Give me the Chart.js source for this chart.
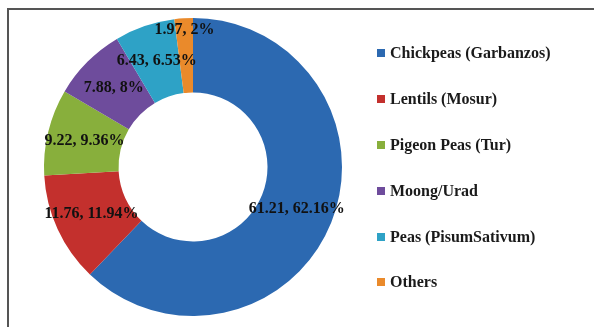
<!DOCTYPE html>
<html>
<head>
<meta charset="utf-8">
<script src="https://cdn.jsdelivr.net/npm/chart.js@4.4.0/dist/chart.umd.min.js"></script>
<style>
  html, body { margin: 0; padding: 0; background: #fff; }
  #wrap { position: relative; width: 594px; height: 327px; overflow: hidden; background: #fff; }
  #frame { position: absolute; left: 7px; top: 8px; width: 600px; height: 330px;
           border-top: 2px solid #555; border-left: 2px solid #555; box-sizing: border-box; }
  #c { position: absolute; left: 0; top: 0; }
  #legend { position: absolute; left: 377px; top: 0; font-family: "Liberation Serif", serif;
            font-weight: bold; font-size: 16px; color: #1a1a1a; }
  .item { position: absolute; white-space: nowrap; height: 18px; line-height: 18px; }
  .sw { position: absolute; left: 0; top: 5px; width: 8px; height: 8px; }
  .tx { position: absolute; left: 13px; top: 0; }
</style>
</head>
<body>
<div id="wrap">
  <div id="frame"></div>
  <canvas id="c" width="594" height="327"></canvas>
  <div id="legend"></div>
</div>
<script>
const categories = ["Chickpeas (Garbanzos)", "Lentils (Mosur)", "Pigeon Peas (Tur)", "Moong/Urad", "Peas (PisumSativum)", "Others"];
const values = [61.21, 11.76, 9.22, 7.88, 6.43, 1.97];
const percents = ["62.16%", "11.94%", "9.36%", "8%", "6.53%", "2%"];
const colors = ["#2C69B1", "#C3302D", "#88AF3C", "#6E4C9C", "#2EA2C6", "#EA8A2B"];

const sliceLabels = {
  id: 'sliceLabels',
  afterDatasetsDraw(chart) {
    const ctx = chart.ctx;
    const meta = chart.getDatasetMeta(0);
    const total = values.reduce((a, b) => a + b, 0);
    ctx.save();
    ctx.font = 'bold 16px "Liberation Serif", serif';
    ctx.fillStyle = '#111';
    ctx.textAlign = 'center';
    ctx.textBaseline = 'middle';
    meta.data.forEach((arc, i) => {
      const p = arc.getProps(['x', 'y', 'startAngle', 'endAngle', 'innerRadius', 'outerRadius']);
      const mid = (p.startAngle + p.endAngle) / 2;
      const frac = values[i] / total;
      const r = frac < 0.03 ? p.outerRadius - 12 : (p.innerRadius + p.outerRadius) / 2;
      const x = p.x + Math.cos(mid) * r;
      const y = p.y + Math.sin(mid) * r;
      ctx.fillText(values[i] + ', ' + percents[i], x, y);
    });
    ctx.restore();
  }
};

new Chart(document.getElementById('c'), {
  type: 'doughnut',
  data: {
    labels: categories,
    datasets: [{ data: values, backgroundColor: colors, borderWidth: 0 }]
  },
  options: {
    responsive: false,
    animation: false,
    cutout: '50%',
    layout: { padding: { top: 18, bottom: 11, left: 44, right: 252 } },
    plugins: { legend: { display: false }, tooltip: { enabled: false } }
  },
  plugins: [sliceLabels]
});

const legendTops = [53, 99, 145, 191, 237, 282];
const lg = document.getElementById('legend');
categories.forEach((name, i) => {
  const it = document.createElement('div');
  it.className = 'item';
  it.style.top = (legendTops[i] - 9) + 'px';
  it.innerHTML = '<span class="sw" style="background:' + colors[i] + '"></span><span class="tx"></span>';
  it.querySelector('.tx').textContent = name;
  lg.appendChild(it);
});
</script>
</body>
</html>
